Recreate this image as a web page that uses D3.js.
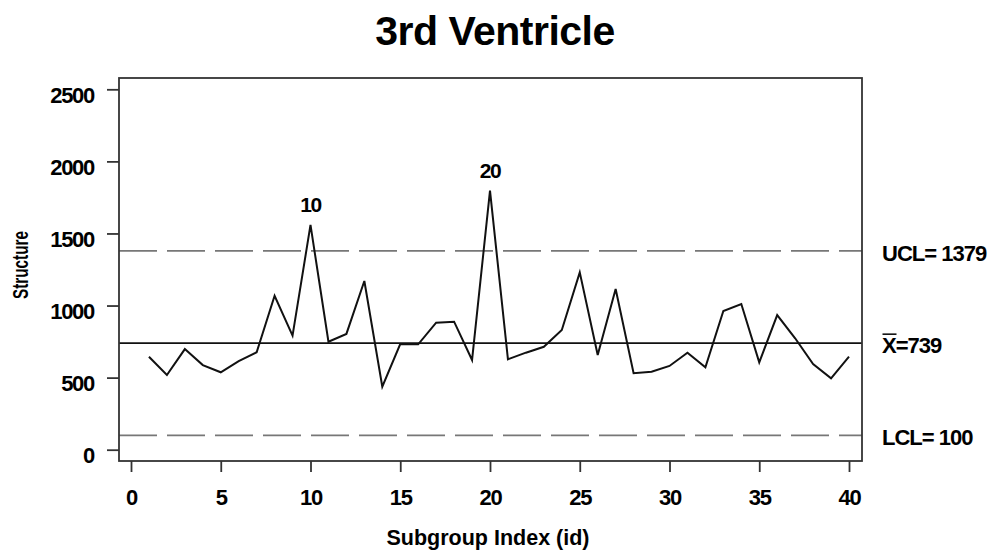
<!DOCTYPE html>
<meta charset="utf-8">
<style>
  body { margin: 0; background: #fff; }
  text { font-family: "Liberation Sans", Arial, sans-serif; font-weight: bold; fill: #000; }
</style>
<body>
<script src="https://d3js.org/d3.v7.min.js"></script>
<script>

  // subgroup index and measured structure values
  let ids = d3.range(1, 41);
  let values = [645, 518, 698, 587, 537, 615, 676, 1068, 791, 1559,
    749, 803, 1170, 437, 733, 731, 881, 888, 622, 1797,
    627, 673, 714, 830, 1230, 657, 1115, 530, 541, 581,
    673, 571, 962, 1011, 606, 934, 773, 594, 495, 645];
  let xTicks = [0, 5, 10, 15, 20, 25, 30, 35, 40];
  let yTicks = [0, 500, 1000, 1500, 2000, 2500];
  let limitNames = ["UCL", "mean", "LCL"];
  let limitValues = [1379, 739, 100];
  let flagged = [10, 20];

  let width = 991,
    height = 550;

  let frame = {left: 119, right: 862, top: 78, bottom: 461};

  let x = d3.scaleLinear().domain([0, 40]).range([131, 849]);
  let y = d3.scaleLinear().domain([0, 2500]).range([449.7, 89.3]);

  let svg = d3.select("body").append("svg")
    .attr("width", width)
    .attr("height", height);

  // title
  svg.append("text")
    .attr("x", 495)
    .attr("y", 45)
    .attr("text-anchor", "middle")
    .style("font-size", "41px")
    .style("letter-spacing", "-0.5px")
    .text("3rd Ventricle");

  // control limit lines
  let limits = limitNames.map((n, i) => ({name: n, value: limitValues[i]}));

  svg.selectAll("line.limit")
    .data(limits)
    .enter().append("line")
    .attr("class", "limit")
    .attr("x1", frame.left)
    .attr("x2", frame.right)
    .attr("y1", d => y(d.value))
    .attr("y2", d => y(d.value))
    .attr("stroke", d => d.name == "mean" ? "#111" : "#777")
    .attr("stroke-width", 1.7)
    .attr("stroke-dasharray", d => d.name == "mean" ? null : "38,10");

  // data line
  let line = d3.line()
    .x((d, i) => x(ids[i]))
    .y(d => y(d));

  svg.append("path")
    .datum(values)
    .attr("fill", "none")
    .attr("stroke", "#111")
    .attr("stroke-width", 2)
    .attr("d", line);

  // labels for out-of-control points
  svg.selectAll("text.flag")
    .data(flagged)
    .enter().append("text")
    .attr("class", "flag")
    .attr("x", d => x(d))
    .attr("y", d => y(values[d - 1]) - 13)
    .attr("text-anchor", "middle")
    .style("font-size", "21px")
    .style("letter-spacing", "-1.5px")
    .text(d => d);

  // frame
  svg.append("rect")
    .attr("x", frame.left)
    .attr("y", frame.top)
    .attr("width", frame.right - frame.left)
    .attr("height", frame.bottom - frame.top)
    .attr("fill", "none")
    .attr("stroke", "#333")
    .attr("stroke-width", 1.8);

  // axes
  let yAxis = svg.append("g")
    .attr("transform", "translate(" + frame.left + ",0)")
    .call(d3.axisLeft(y).tickValues(yTicks).tickFormat(d3.format("d")).tickSize(12).tickPadding(13));

  let xAxis = svg.append("g")
    .attr("transform", "translate(0," + frame.bottom + ")")
    .call(d3.axisBottom(x).tickValues(xTicks).tickFormat(d3.format("d")).tickSize(11).tickPadding(17));

  [xAxis, yAxis].forEach(g => {
    g.select(".domain").remove();
    g.selectAll(".tick line").attr("stroke", "#333").attr("stroke-width", 1.8);
    g.selectAll(".tick text")
      .style("font-family", "'Liberation Sans', Arial, sans-serif")
      .style("font-weight", "bold")
      .style("font-size", "22px")
      .style("letter-spacing", "-1.3px")
      .attr("fill", "#000");
  });
  yAxis.selectAll(".tick text").attr("dy", "0.6em");

  // axis titles
  svg.append("text")
    .attr("transform", "translate(28,265) rotate(-90)")
    .attr("text-anchor", "middle")
    .style("font-size", "22px")
    .attr("textLength", 68)
    .attr("lengthAdjust", "spacingAndGlyphs")
    .text("Structure");

  svg.append("text")
    .attr("x", 488)
    .attr("y", 545)
    .attr("text-anchor", "middle")
    .style("font-size", "22px")
    .attr("textLength", 203)
    .attr("lengthAdjust", "spacingAndGlyphs")
    .text("Subgroup Index (id)");

  // limit labels on the right
  let labelX = 882;
  let lbl = svg.selectAll("g.lbl")
    .data(limits)
    .enter().append("g")
    .attr("class", "lbl")
    .attr("transform", d => "translate(" + labelX + "," + (y(d.value) + 10) + ")");

  lbl.append("text")
    .style("font-size", "22px")
    .style("letter-spacing", "-1px")
    .text(d => d.name == "UCL" ? "UCL= " + d.value
      : d.name == "LCL" ? "LCL= " + d.value
      : "X=" + d.value);

  // bar over the X of the mean label
  lbl.filter(d => d.name == "mean").append("line")
    .attr("x1", 0.5)
    .attr("x2", 14.5)
    .attr("y1", -19)
    .attr("y2", -19)
    .attr("stroke", "#000")
    .attr("stroke-width", 1.5);

</script>
